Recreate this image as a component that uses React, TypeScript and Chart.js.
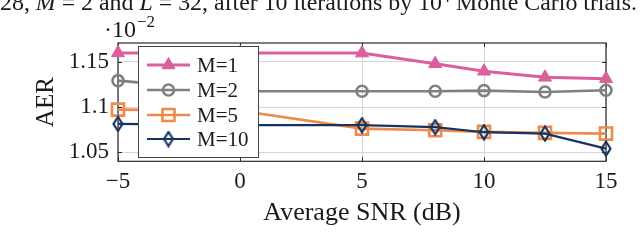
import React, { useEffect, useRef } from "react";
import { Chart, registerables } from "chart.js";
import { drawPoint } from "chart.js/helpers";

Chart.register(...registerables);

const snr = [-5, 0, 5, 8, 10, 12.5, 15];
const aerM1 = [1.16, 1.16, 1.1598, 1.148, 1.1397, 1.133, 1.1315];
const aerM2 = [1.1293, 1.1176, 1.1176, 1.1176, 1.1183, 1.1168, 1.1187];
const aerM5 = [1.0972, 1.096, 1.0762, 1.0744, 1.0726, 1.0715, 1.0707];
const aerM10 = [1.0814, 1.08, 1.08, 1.0778, 1.0722, 1.0707, 1.054];
const seriesLabels = ["M=1", "M=2", "M=5", "M=10"];
const xTicks = [-5, 0, 5, 10, 15];
const xTickLabels = ["\u22125", "0", "5", "10", "15"];
const yTicks = [1.05, 1.1, 1.15];
const yTickLabels = ["1.05", "1.1", "1.15"];

const PINK = "#d9609a";
const GREY = "#808080";
const ORANGE = "#ee8a4e";
const NAVY = "#16345f";
const FONT = "'Liberation Serif', 'Times New Roman', serif";
const TEXT = "#1a1a1a";

export default function App() {
  const ref = useRef<HTMLCanvasElement>(null);

  useEffect(() => {
    const canvas = ref.current!;
    const diamond = document.createElement("canvas");
    diamond.width = 12;
    diamond.height = 17;
    const dctx = diamond.getContext("2d")!;
    dctx.strokeStyle = NAVY;
    dctx.lineWidth = 2.2;
    dctx.beginPath();
    dctx.moveTo(6, 1.5);
    dctx.lineTo(10.5, 8.5);
    dctx.lineTo(6, 15.5);
    dctx.lineTo(1.5, 8.5);
    dctx.closePath();
    dctx.stroke();

    const toPts = (arr: number[]) => arr.map((y, i) => ({ x: snr[i], y }));

    const framePlugin = {
      id: "frame",
      beforeDatasetsDraw(chart: any) {
        const { ctx, chartArea: a, scales } = chart;
        ctx.save();
        ctx.strokeStyle = "#2a2a2a";
        ctx.lineWidth = 1;
        ctx.beginPath();
        const tl = 4;
        xTicks.forEach((v) => {
          const px = Math.round(scales.x.getPixelForValue(v)) + 0.5;
          ctx.moveTo(px, a.bottom);
          ctx.lineTo(px, a.bottom - tl);
          ctx.moveTo(px, a.top);
          ctx.lineTo(px, a.top + tl);
        });
        yTicks.forEach((v) => {
          const py = Math.round(scales.y.getPixelForValue(v)) + 0.5;
          ctx.moveTo(a.left, py);
          ctx.lineTo(a.left + tl, py);
          ctx.moveTo(a.right, py);
          ctx.lineTo(a.right - tl, py);
        });
        ctx.stroke();
        ctx.lineWidth = 1.2;
        ctx.strokeRect(a.left, a.top, a.right - a.left, a.bottom - a.top);
        ctx.restore();
      },
    };

    const overlayPlugin = {
      id: "overlay",
      afterDraw(chart: any) {
        const { ctx } = chart;
        ctx.save();
        // legend box
        const bx = 138, by = 46, bw = 120, bh = 111;
        ctx.fillStyle = "#fff";
        ctx.fillRect(bx, by, bw, bh);
        ctx.strokeStyle = "#444";
        ctx.lineWidth = 1;
        ctx.strokeRect(bx + 0.5, by + 0.5, bw, bh);
        const rows = [65, 90, 115, 139];
        chart.data.datasets.forEach((ds: any, i: number) => {
          const y = rows[i];
          ctx.strokeStyle = ds.borderColor;
          ctx.lineWidth = ds.borderWidth;
          ctx.beginPath();
          ctx.moveTo(147, y);
          ctx.lineTo(190, y);
          ctx.stroke();
          ctx.fillStyle = ds.pointBackgroundColor;
          ctx.strokeStyle = ds.pointBorderColor;
          ctx.lineWidth = ds.pointBorderWidth;
          drawPoint(ctx, { pointStyle: ds.pointStyle, radius: ds.pointRadius, borderWidth: ds.pointBorderWidth, rotation: 0 } as any, 168.5, y);
          ctx.fillStyle = TEXT;
          ctx.font = `21px ${FONT}`;
          ctx.textBaseline = "middle";
          ctx.textAlign = "left";
          ctx.fillText(ds.label, 197, y + 1);
        });
        // exponent label
        ctx.fillStyle = TEXT;
        ctx.textBaseline = "alphabetic";
        ctx.textAlign = "left";
        ctx.font = `24px ${FONT}`;
        ctx.fillText("\u00b710", 104, 37);
        const w10 = ctx.measureText("\u00b710").width;
        ctx.font = `17px ${FONT}`;
        ctx.fillText("\u22122", 104 + w10 + 1, 27);
        // caption (top, cut)
        const parts = [
          { t: "28, ", it: false, sup: false },
          { t: "M", it: true, sup: false },
          { t: " = 2 and ", it: false, sup: false },
          { t: "L", it: true, sup: false },
          { t: " = 32, after 10 iterations by 10", it: false, sup: false },
          { t: "4", it: false, sup: true },
          { t: " Monte Carlo trials.", it: false, sup: false },
        ];
        const fontFor = (p: any) => `${p.it ? "italic " : ""}${p.sup ? 16 : 24}px ${FONT}`;
        let total = 0;
        parts.forEach((p) => {
          ctx.font = fontFor(p);
          total += ctx.measureText(p.t).width;
        });
        const sx = 637 / total;
        ctx.save();
        ctx.scale(sx, 1);
        let cx = 0;
        parts.forEach((p) => {
          ctx.font = fontFor(p);
          ctx.fillText(p.t, cx, p.sup ? 2 : 10);
          cx += ctx.measureText(p.t).width;
        });
        ctx.restore();
        ctx.restore();
      },
    };

    const chart = new Chart(canvas, {
      type: "line",
      data: {
        datasets: [
          {
            label: seriesLabels[0],
            data: toPts(aerM1),
            borderColor: PINK,
            backgroundColor: PINK,
            borderWidth: 3,
            pointStyle: "triangle",
            pointRadius: 7.5,
            pointBackgroundColor: PINK,
            pointBorderColor: PINK,
            pointBorderWidth: 1,
            order: 3,
            clip: false,
          },
          {
            label: seriesLabels[1],
            data: toPts(aerM2),
            borderColor: GREY,
            backgroundColor: "rgba(0,0,0,0)",
            borderWidth: 2.6,
            pointStyle: "circle",
            pointRadius: 5.5,
            pointBackgroundColor: "rgba(0,0,0,0)",
            pointBorderColor: GREY,
            pointBorderWidth: 2.6,
            order: 2,
            clip: false,
          },
          {
            label: seriesLabels[2],
            data: toPts(aerM5),
            borderColor: ORANGE,
            backgroundColor: "rgba(0,0,0,0)",
            borderWidth: 2.6,
            pointStyle: "rect",
            pointRadius: 8.5,
            pointBackgroundColor: "rgba(0,0,0,0)",
            pointBorderColor: ORANGE,
            pointBorderWidth: 2.6,
            order: 1,
            clip: false,
          },
          {
            label: seriesLabels[3],
            data: toPts(aerM10),
            borderColor: NAVY,
            backgroundColor: "rgba(0,0,0,0)",
            borderWidth: 2.2,
            pointStyle: diamond as any,
            pointRadius: 7,
            pointBackgroundColor: "rgba(0,0,0,0)",
            pointBorderColor: NAVY,
            pointBorderWidth: 2.2,
            order: 0,
            clip: false,
          },
        ] as any,
      },
      options: {
        animation: false,
        responsive: false,
        devicePixelRatio: 1,
        layout: { padding: { left: 0, top: 43, right: 34, bottom: 0 } },
        plugins: { legend: { display: false }, tooltip: { enabled: false } },
        elements: { line: { tension: 0 } },
        scales: {
          x: {
            type: "linear",
            min: -5,
            max: 15,
            afterBuildTicks: (s: any) => {
              s.ticks = xTicks.map((v) => ({ value: v }));
            },
            afterFit: (s: any) => {
              s.height = 83.7;
            },
            ticks: {
              callback: (v: any) => xTickLabels[xTicks.indexOf(Number(v))] ?? "",
              font: { family: FONT, size: 23 },
              color: TEXT,
              padding: 7,
              maxRotation: 0,
              autoSkip: false,
            },
            grid: { color: "#d6d6d6", lineWidth: 1, drawTicks: false },
            border: { display: false },
            title: {
              display: true,
              text: "Average SNR (dB)",
              font: { family: FONT, size: 26 },
              color: TEXT,
              padding: { top: 0, bottom: 16 },
            },
          },
          y: {
            type: "linear",
            min: 1.04,
            max: 1.171,
            afterBuildTicks: (s: any) => {
              s.ticks = yTicks.map((v) => ({ value: v }));
            },
            afterFit: (s: any) => {
              s.width = 118;
            },
            ticks: {
              callback: (v: any) => yTickLabels[yTicks.indexOf(Number(v))] ?? "",
              font: { family: FONT, size: 23 },
              color: TEXT,
              padding: 9,
              autoSkip: false,
            },
            grid: { color: "#d6d6d6", lineWidth: 1, drawTicks: false },
            border: { display: false },
            title: {
              display: true,
              text: "AER",
              font: { family: FONT, size: 25 },
              color: TEXT,
              padding: { top: 31, bottom: 0 },
            },
          },
        },
      } as any,
      plugins: [framePlugin, overlayPlugin],
    });
    return () => chart.destroy();
  }, []);

  return (
    <div style={{ position: "absolute", left: 0, top: 0, width: 640, height: 245, background: "#fff" }}>
      <canvas ref={ref} width={640} height={245} style={{ display: "block", width: 640, height: 245 }} />
    </div>
  );
}
